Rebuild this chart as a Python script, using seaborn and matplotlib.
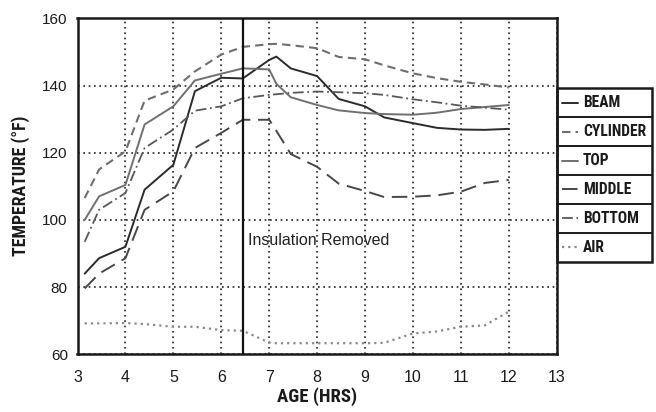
import matplotlib
matplotlib.use("Agg")
import matplotlib.pyplot as plt
from matplotlib import font_manager as fm
import seaborn as sns
import pandas as pd
from matplotlib.lines import Line2D
from matplotlib.patches import Rectangle

# Elapsed time since casting (hours)
age_hrs = [3.15, 3.45, 4.0, 4.4, 5.0, 5.45, 6.0, 6.45, 7.0, 7.15,
           7.45, 8.0, 8.45, 9.0, 9.4, 10.0, 10.5, 11.0, 11.5, 12.0]

# Temperatures (deg F)
beam = [84.0, 88.6, 92.0, 109.0, 116.4, 138.3, 142.3, 142.1, 147.6, 148.6,
        145.1, 142.8, 136.0, 133.8, 130.5, 128.8, 127.4, 126.9, 126.8, 127.1]
cylinder = [106.5, 115.0, 120.4, 135.5, 138.8, 144.2, 149.2, 151.5, 152.3, 152.4,
            152.0, 151.1, 148.5, 147.8, 146.0, 143.6, 142.2, 141.1, 140.3, 139.4]
top = [100.0, 107.0, 110.4, 128.4, 133.8, 141.5, 143.5, 145.1, 144.8, 140.5,
       136.5, 134.2, 132.6, 131.8, 131.5, 131.3, 131.9, 133.0, 133.6, 134.2]
middle = [79.6, 84.0, 88.6, 103.0, 108.5, 121.4, 125.9, 129.8, 129.8, 126.5,
          119.6, 115.8, 110.8, 108.6, 106.8, 106.9, 107.3, 108.4, 111.0, 111.9]
bottom = [93.5, 103.0, 108.0, 121.4, 126.9, 132.5, 133.8, 136.2, 137.2, 137.4,
          137.8, 138.2, 138.0, 137.7, 137.2, 135.9, 135.0, 134.0, 133.4, 132.8]
air = [69.2, 69.2, 69.3, 69.0, 68.2, 68.2, 67.2, 67.0, 63.5, 63.3,
       63.3, 63.3, 63.3, 63.3, 63.4, 66.2, 66.8, 68.2, 68.6, 72.7]

series_names = ["BEAM", "CYLINDER", "TOP", "MIDDLE", "BOTTOM", "AIR"]
series_values = [beam, cylinder, top, middle, bottom, air]

insulation_removed_at = 6.45
x_ticks = [3, 4, 5, 6, 7, 8, 9, 10, 11, 12, 13]
y_ticks = [60, 80, 100, 120, 140, 160]

df = pd.DataFrame({
    "age": age_hrs * len(series_names),
    "temp": [v for vals in series_values for v in vals],
    "series": [n for n in series_names for _ in age_hrs],
})

palette = {"BEAM": "#2b2b2b", "CYLINDER": "#6e6e6e", "TOP": "#707070",
           "MIDDLE": "#474747", "BOTTOM": "#585858", "AIR": "#8a8a8a"}
dash_map = {"BEAM": "", "CYLINDER": (4, 2.5), "TOP": "",
            "MIDDLE": (8, 4), "BOTTOM": (6, 2, 1, 2), "AIR": (1, 1.8)}
widths = {"BEAM": 1.4, "CYLINDER": 1.5, "TOP": 1.4,
          "MIDDLE": 1.4, "BOTTOM": 1.3, "AIR": 1.6}

sns.set_style("white")
plt.rcParams["font.family"] = ["Liberation Sans", "DejaVu Sans"]

# Pick a condensed face for the axis titles and key, if one is installed
entries = fm.fontManager.ttflist
names = {f.name for f in entries}
cond = dict(fontfamily=["Liberation Sans", "DejaVu Sans"], fontstretch="normal")
scale = 0.86
for fam in ["Liberation Sans Narrow", "Roboto Condensed", "Open Sans Condensed",
            "Noto Sans Condensed", "DejaVu Sans Condensed"]:
    if fam in names:
        cond = dict(fontfamily=[fam, "DejaVu Sans"], fontstretch="normal")
        scale = 1.0
        break
else:
    for fam in ["DejaVu Sans", "Noto Sans", "Open Sans", "Roboto"]:
        if any(f.name == fam and str(f.stretch) in ("condensed", "semi-condensed")
               for f in entries):
            cond = dict(fontfamily=[fam], fontstretch="condensed")
            scale = 1.0
            break

W, H = 656, 412
fig = plt.figure(figsize=(W / 100, H / 100), dpi=100)


def fx(px):
    return px / W


def fy(py):
    return 1 - py / H


ax_l, ax_r, ax_t, ax_b = 77.5, 556.7, 18.3, 354.3
ax = fig.add_axes([fx(ax_l), fy(ax_b), fx(ax_r) - fx(ax_l), (ax_b - ax_t) / H])

sns.lineplot(data=df, x="age", y="temp", hue="series", style="series",
             hue_order=series_names, style_order=series_names,
             palette=palette, dashes=dash_map, estimator=None, sort=False,
             legend=False, ax=ax)
for line, name in zip(ax.lines, series_names):
    line.set_linewidth(widths[name])

ax.axvline(insulation_removed_at, color="#111111", lw=1.6, zorder=3)
ax.text(insulation_removed_at + 0.1, 94, "Insulation Removed",
        fontsize=11.5, color="#222222", ha="left", va="center")

ax.set_xlim(3, 13)
ax.set_ylim(60, 160)
ax.set_xticks(x_ticks)
ax.set_yticks(y_ticks)
ax.grid(True, color="#222222", linestyle=(0, (1, 2.2)), linewidth=1.2)
ax.set_axisbelow(True)
for sp in ax.spines.values():
    sp.set_color("#1a1a1a")
    sp.set_linewidth(1.8)
ax.tick_params(axis="both", direction="out", length=5, width=1.2,
               colors="#1a1a1a", labelsize=11, pad=2)
ax.tick_params(axis="x", pad=6, labelsize=11.5)

ax.set_xlabel("AGE (HRS)", fontweight="bold", fontsize=13.5 * scale,
              color="#1a1a1a", labelpad=2, **cond)
ax.set_ylabel("TEMPERATURE (\u00b0F)", fontweight="bold", fontsize=12.8 * scale,
              color="#1a1a1a", labelpad=9, **cond)

# Boxed key: one cell per series, outside the right edge of the plot
leg_l, leg_r, leg_t, row_h = 556.7, 651.7, 88.3, 28.9
n = len(series_names)
fig.add_artist(Rectangle((fx(leg_l), fy(leg_t + n * row_h)),
                         fx(leg_r) - fx(leg_l), n * row_h / H,
                         transform=fig.transFigure, fill=False,
                         edgecolor="#1a1a1a", lw=1.8))
for i in range(1, n):
    yy = fy(leg_t + i * row_h)
    fig.add_artist(Line2D([fx(leg_l), fx(leg_r)], [yy, yy],
                          transform=fig.transFigure, color="#1a1a1a", lw=1.4))
for i, (name, src) in enumerate(zip(series_names, ax.lines)):
    yc = fy(leg_t + (i + 0.5) * row_h)
    h = Line2D([fx(562), fx(578)], [yc, yc], transform=fig.transFigure,
               color=src.get_color(), lw=src.get_linewidth())
    h.set_linestyle(src.get_linestyle())
    if dash_map[name]:
        h.set_dashes(dash_map[name])
    fig.add_artist(h)
    fig.text(fx(583), yc, name, fontweight="bold", fontsize=11.2 * scale,
             color="#1a1a1a", ha="left", va="center", **cond)

fig.savefig("out.png", dpi=100)
